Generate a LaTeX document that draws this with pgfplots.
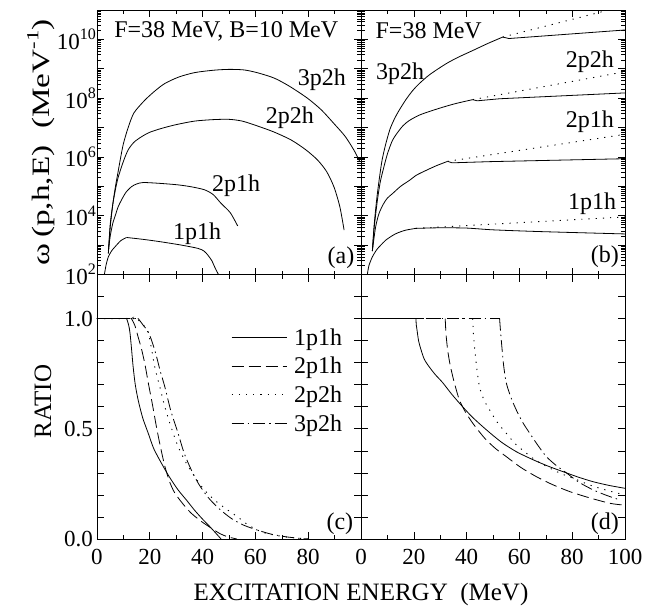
\documentclass[border=0pt]{standalone}
\usepackage{fontspec}
\setmainfont{Liberation Serif}
\usepackage{graphicx}
\usepackage{pgfplots}
\pgfplotsset{compat=1.18}
\newcommand\tickfont{\fontsize{23}{26}\selectfont}
\newcommand\annfont{\fontsize{24}{27}\selectfont}
\newcommand\labfont{\fontsize{25}{28}\selectfont}
\newcommand\lab[1]{10\raisebox{0.42em}{\fontsize{16}{16}\selectfont #1}}
\tikzset{
 c1/.style={black, line width=0.8pt, line join=round},
 c2/.style={black, line width=0.8pt, dash pattern=on 12pt off 5pt},
 c3/.style={black, line width=0.9pt, dash pattern=on 1.2pt off 6pt},
 c4/.style={black, line width=0.8pt, dash pattern=on 12pt off 4pt on 1.5pt off 4pt},
 sm/.style={smooth, tension=0.45},
}
\pgfplotsset{
 panel/.style={scale only axis, width=264pt, height=264.5pt, xmin=0, xmax=100,
   tick align=inside, axis line style={line width=0.8pt},
   every tick/.style={black, line width=0.6pt},
   major tick length=7pt, minor tick length=4pt,
   xtick={0,20,40,60,80,100}, minor xtick={10,30,50,70,90},
   tick label style={font=\tickfont}, xticklabel style={yshift=-7pt}, clip=true},
 logpanel/.style={panel, ymin=1e2, ymax=1e11, xticklabel=\empty,
   ytick={1e2,1e3,1e4,1e5,1e6,1e7,1e8,1e9,1e10,1e11},
   minor ytick={2e2,3e2,4e2,5e2,6e2,7e2,8e2,9e2,2e3,3e3,4e3,5e3,6e3,7e3,8e3,9e3,
     2e4,3e4,4e4,5e4,6e4,7e4,8e4,9e4,2e5,3e5,4e5,5e5,6e5,7e5,8e5,9e5,
     2e6,3e6,4e6,5e6,6e6,7e6,8e6,9e6,2e7,3e7,4e7,5e7,6e7,7e7,8e7,9e7,
     2e8,3e8,4e8,5e8,6e8,7e8,8e8,9e8,2e9,3e9,4e9,5e9,6e9,7e9,8e9,9e9,
     2e10,3e10,4e10,5e10,6e10,7e10,8e10,9e10}},
 ratiopanel/.style={panel, ymin=0, ymax=1.2,
   ytick={0,0.1,0.2,0.3,0.4,0.5,0.6,0.7,0.8,0.9,1.0,1.1},
   minor tick length=4pt},
}
\begin{document}
\begin{tikzpicture}[x=1pt,y=1pt]
\useasboundingbox (0,-611) rectangle (649,0);
% ---------------- (a)
\begin{axis}[ymode=log, logpanel, at={(97pt,-274.5pt)}, anchor=south west,
  yticklabels={\lab{2},{},\lab{4},{},\lab{6},{},\lab{8},{},\lab{10},{}},
  yticklabel style={inner xsep=0pt, xshift=-1pt},
  ylabel={\scalebox{1.33}[1]{ω\,(p,h,E)\ \ (MeV\raisebox{0.45em}{\fontsize{17}{17}\selectfont -1})}},
  ylabel style={at={(axis description cs:-0.212,0.5)}, anchor=center, font=\labfont}]
% 1p1h
\addplot[c1, sm] coordinates {(2.8,100) (3.5,224) (4.3,398) (5.5,631) (6.8,871) (9,1413) (11.2,1820)};
\addplot[c1, sm] coordinates {(11.2,1820) (18,1549) (24.4,1288) (32,1000) (38.2,776) (40.5,631) (42,457) (43.5,295) (44.5,186) (46,100)};
% 2p1h
\addplot[c1, sm] coordinates {(4.3,631) (5,1995) (6,5623) (6.8,9333) (8,19953) (9.3,34674) (11,63096) (13.1,97724) (15,120226) (17.5,134896) (24,125893) (30.7,112202) (36,95499) (40.8,75858) (44,52481) (47,26303) (50.5,12589) (53.3,4467)};
% 2p2h
\addplot[c1, sm] coordinates {(4.3,525) (5,5012) (6,25119) (7,79433) (8,199526) (10,707946) (11.8,1.738e6) (14,3.162e6) (16.9,4.898e6) (20,6.918e6) (24.4,9.333e6) (30,1.259e7) (37,1.66e7) (44,1.862e7) (50,1.905e7) (55,1.66e7) (60.9,1.122e7) (67,7.08e6) (73.5,3.8e6) (79,1.778e6) (83.5,7.94e5) (87,3.16e5) (89.8,93325) (92,19953) (93.6,3236)};
% 3p2h
\addplot[c1, sm] coordinates {(4.3,525) (5,3981) (6,25119) (7,1e5) (8,3.16e5) (9,1e6) (10,2.818e6) (11.8,1e7) (14,3.16e7) (18.1,8.51e7) (22,1.778e8) (25.7,3.16e8) (31,5.25e8) (37,7.41e8) (44,8.91e8) (50,9.55e8) (55.8,9.12e8) (61,7.24e8) (67.2,4.79e8) (73,2.512e8) (79.7,1e8) (85,3.98e7) (89.8,1.35e7) (94,5.01e6) (97.4,1.66e6) (99.5,7.08e5)};
\node[anchor=west, font=\annfont] at (rel axis cs:0.052,0.92) {F=38 MeV, B=10 MeV};
\node[font=\annfont] at (rel axis cs:0.852,0.735) {3p2h};
\node[font=\annfont] at (rel axis cs:0.731,0.591) {2p2h};
\node[font=\annfont] at (rel axis cs:0.527,0.335) {2p1h};
\node[font=\annfont] at (rel axis cs:0.379,0.153) {1p1h};
\node[font=\annfont] at (rel axis cs:0.924,0.062) {(a)};
\end{axis}
% ---------------- (b)
\begin{axis}[ymode=log, logpanel, at={(361pt,-274.5pt)}, anchor=south west, yticklabel=\empty]
% 1p1h
\addplot[c1, sm] coordinates {(2.4,100) (3,200) (4.3,398) (6,708) (7.5,1000) (9.4,1479) (12,2138) (14,2630) (17,3236) (20.8,3715)};
\addplot[c1, sm] coordinates {(20.8,3715) (30,3890) (40,3800) (50,3311) (68,2884) (100,2399)};
\addplot[c3] coordinates {(20.8,3715) (100,9120)};
% 2p1h
\addplot[c1, sm] coordinates {(4.3,631) (5.5,3981) (6.8,11749) (8.5,25119) (10,39811) (11.9,56234) (15,1e5) (18.3,158489) (21,239883) (24.6,346737) (28.5,501187) (32.8,707946)};
\addplot[c1] coordinates {(32.8,707946) (34.5,630957) (48.7,691831) (100,870964)};
\addplot[c3] coordinates {(32.8,707946) (100,5.888e6)};
% 2p2h
\addplot[c1, sm] coordinates {(4.3,631) (5,3981) (6.2,33113) (7.3,141254) (8.5,398107) (10,1.259e6) (11.9,3.63e6) (14,7.08e6) (16,1.175e7) (18.3,1.738e7) (22,2.63e7) (26,3.548e7) (30.9,4.898e7) (36,6.607e7) (42.3,8.91e7)};
\addplot[c1] coordinates {(42.3,8.91e7) (44,8.13e7) (52.5,9.55e7) (100,1.51e8)};
\addplot[c3] coordinates {(42.3,8.91e7) (100,7.94e8)};
% 3p2h
\addplot[c1, sm] coordinates {(4.3,631) (5,5012) (6,39811) (7,199526) (8,794328) (9.4,2.818e6) (11,8.91e6) (12.7,2e7) (14.4,3.8e7) (17,8.91e7) (19.5,1.778e8) (22,3.09e8) (26,6.31e8) (32.2,1.479e9) (37,2.512e9) (42.3,4.17e9) (48,7.244e9) (53.7,1.202e10)};
\addplot[c1] coordinates {(53.7,1.202e10) (56,1.07e10) (100,2.09e10)};
\addplot[c3] coordinates {(53.7,1.202e10) (100,1.38e11)};
\node[anchor=west, font=\annfont] at (rel axis cs:0.042,0.92) {F=38 MeV};
\node[font=\annfont] at (rel axis cs:0.148,0.758) {3p2h};
\node[font=\annfont] at (rel axis cs:0.867,0.803) {2p2h};
\node[font=\annfont] at (rel axis cs:0.867,0.577) {2p1h};
\node[font=\annfont] at (rel axis cs:0.875,0.266) {1p1h};
\node[font=\annfont] at (rel axis cs:0.924,0.066) {(b)};
\end{axis}
% ---------------- (c)
\begin{axis}[ratiopanel, at={(97pt,-539pt)}, anchor=south west,
  yticklabels={0.0,{},{},{},{},0.5,{},{},{},{},1.0,{}},
  yticklabel style={inner xsep=4pt},
  xticklabels={0,20,40,60,80,{}},
  ylabel={RATIO},
  ylabel style={at={(axis description cs:-0.2045,0.52)}, anchor=center, font=\labfont},
  xlabel={EXCITATION ENERGY\ \ (MeV)},
  xlabel style={at={(axis description cs:1.0,-0.208)}, anchor=center, font=\labfont},
  legend style={draw=none, fill=none, at={(rel axis cs:0.496,0.812)}, anchor=north west,
    font=\annfont, row sep=6.5pt, nodes={inner sep=2pt},
    /tikz/every odd column/.append style={column sep=5pt}},
  legend cell align=left,
  legend image code/.code={\draw[#1] (0pt,0pt) -- (55pt,0pt);}]
\addplot[c1, sm] coordinates {(0,1) (10.6,1) (11.2,1) (12,0.97) (12.5,0.935) (13.1,0.86) (13.7,0.78) (14.5,0.70) (15.6,0.63) (17.3,0.55) (19.4,0.48) (21.5,0.41) (24.4,0.344) (27.5,0.28) (30.7,0.223) (34,0.175) (37,0.13) (40,0.09) (43.3,0.049) (47,0)};
\addlegendentry{1p1h}
\addplot[c2, sm] coordinates {(0,1) (12.4,1) (13,1) (14.3,0.97) (15.5,0.92) (16.9,0.86) (18.2,0.79) (19.4,0.71) (21,0.61) (22.5,0.51) (24,0.42) (25.7,0.33) (27.5,0.26) (29.4,0.21) (32.5,0.16) (35.7,0.117) (39.5,0.08) (43.3,0.049) (46.5,0.025) (49.5,0.01) (53,0)};
\addlegendentry{2p1h}
\addplot[c3, sm] coordinates {(0,1) (14,1) (14.6,1) (17,0.98) (19.4,0.935) (20.7,0.86) (21.9,0.78) (23.8,0.69) (25.7,0.60) (28,0.51) (30.7,0.42) (33.8,0.345) (37,0.283) (40.5,0.225) (44.5,0.177) (48.5,0.14) (53.3,0.10) (57,0.066) (60.9,0.04) (64,0.026) (67.2,0.018) (71,0.01) (75,0.005) (80,0)};
\addlegendentry{2p2h}
\addplot[c4, sm] coordinates {(0,1) (15,1) (15.6,1) (17.5,0.97) (19.4,0.94) (21,0.89) (22.5,0.83) (24,0.76) (25.7,0.69) (28,0.58) (30.7,0.48) (33,0.39) (35.7,0.314) (38.5,0.25) (42,0.19) (46,0.14) (50.8,0.094) (55.5,0.063) (60.9,0.04) (66,0.022) (71.6,0.01) (76,0.004) (80,0)};
\addlegendentry{3p2h}
\node[font=\annfont] at (rel axis cs:0.92,0.057) {(c)};
\end{axis}
% ---------------- (d)
\begin{axis}[ratiopanel, at={(361pt,-539pt)}, anchor=south west, yticklabel=\empty,
  xticklabels={0,20,40,60,80,100}]
\addplot[c1] coordinates {(0,1) (20.8,1)};
\addplot[c1, sm] coordinates {(20.8,1) (20.95,0.97) (21.2,0.95) (21.8,0.9) (22.7,0.86) (24,0.815) (25.9,0.78) (28.2,0.745) (30.9,0.71) (34.5,0.655) (38.5,0.60) (42,0.555) (46.1,0.51) (50,0.47) (53.7,0.435) (59,0.395) (65.1,0.36) (71,0.33) (77.8,0.30) (82.5,0.28) (87.9,0.26) (94,0.243) (100,0.23)};
\addplot[c2] coordinates {(0,1) (31.9,1)};
\addplot[c2, sm] coordinates {(31.9,1) (32.2,0.93) (32.8,0.86) (33.6,0.80) (34.7,0.74) (35.9,0.685) (37.3,0.63) (39.6,0.575) (42.3,0.526) (44.8,0.487) (47.4,0.45) (51,0.41) (55,0.374) (60.5,0.325) (66.4,0.283) (72.5,0.247) (79.1,0.215) (86.5,0.187) (94.3,0.162) (98.7,0.155)};
\addplot[c3] coordinates {(0,1) (42.3,1)};
\addplot[c3, sm] coordinates {(42.3,1) (42.6,0.93) (43.1,0.86) (43.9,0.77) (44.9,0.69) (46.6,0.63) (48.7,0.586) (51.6,0.53) (55,0.48) (58.6,0.43) (62.6,0.39) (66.2,0.357) (70.2,0.33) (75.5,0.298) (81.6,0.27) (86,0.248) (90.5,0.23) (95,0.215) (100,0.20)};
\addplot[c4] coordinates {(0,1) (52.5,1)};
\addplot[c4, sm] coordinates {(52.5,1) (52.8,0.95) (53.3,0.88) (54,0.79) (55,0.71) (56.7,0.645) (58.8,0.586) (61.2,0.53) (63.9,0.48) (67,0.425) (70.2,0.374) (73.8,0.335) (77.8,0.30) (82.5,0.258) (87.9,0.223) (93,0.198) (98.1,0.177)};
\node[font=\annfont] at (rel axis cs:0.924,0.057) {(d)};
\end{axis}
\end{tikzpicture}
\end{document}
